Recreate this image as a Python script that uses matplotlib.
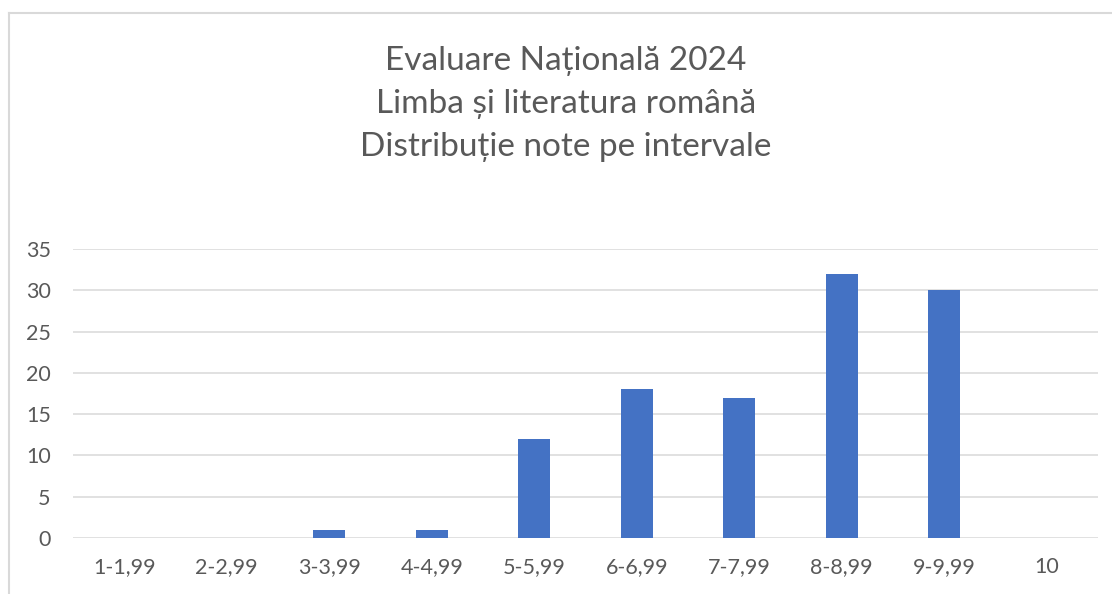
import matplotlib
matplotlib.use("Agg")
import matplotlib.pyplot as plt
from matplotlib.lines import Line2D

plt.rcParams['font.family'] = ['Lato', 'DejaVu Sans']

categories = ["1-1,99", "2-2,99", "3-3,99", "4-4,99", "5-5,99",
              "6-6,99", "7-7,99", "8-8,99", "9-9,99", "10"]
counts = [0, 0, 1, 1, 12, 18, 17, 32, 30, 0]
title_lines = ["Evaluare Națională 2024", "Limba și literatura română",
               "Distribuție note pe intervale"]

W, H = 1112, 594
fig = plt.figure(figsize=(W / 100, H / 100), dpi=100)
ax = fig.add_axes([73 / W, 56 / H, 1025 / W, 289 / H])

x = range(len(categories))
ax.bar(x, counts, width=0.31, color="#4472C4", zorder=3)

ax.set_xlim(-0.5, len(categories) - 0.5)
ax.set_ylim(0, 35)
ax.set_yticks(range(0, 36, 5))
ax.set_xticks(list(x))
ax.set_xticklabels(categories)
ax.grid(axis="y", color="#d9d9d9", linewidth=1.1, zorder=0)
for s in ax.spines.values():
    s.set_visible(False)
ax.tick_params(length=0, labelsize=15.5, labelcolor="#595959")
ax.tick_params(axis="y", pad=16)
ax.tick_params(axis="x", pad=14)

# title, three lines
for i, line in enumerate(title_lines):
    fig.text(566 / W, 1 - (61 + 43 * i) / H, line, ha="center", va="center",
             fontsize=24, color="#595959")

# chart border (left and top visible)
fig.add_artist(Line2D([9 / W, 9 / W], [0, 1 - 13 / H], color="#d9d9d9", lw=1.5))
fig.add_artist(Line2D([9 / W, 1], [1 - 13 / H, 1 - 13 / H], color="#d9d9d9", lw=1.5))

fig.savefig("out.png", dpi=100, facecolor="white")
